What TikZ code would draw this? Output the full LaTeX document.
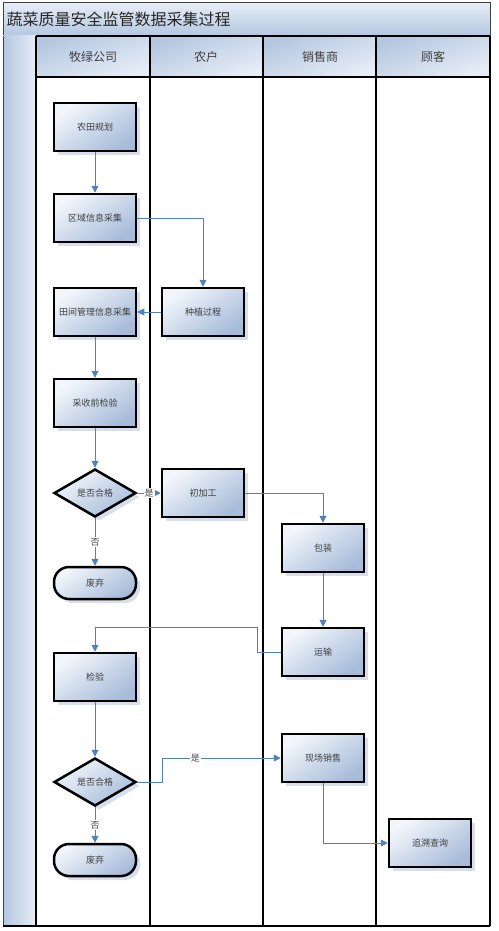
\documentclass[tikz,border=0pt]{standalone}
\usepackage{fontspec}
\newfontfamily\cjk{Noto Sans CJK SC}
\usetikzlibrary{shapes.geometric,arrows.meta,shadows}

\definecolor{flowblue}{HTML}{4F81BD}
\definecolor{boxlight}{HTML}{F2F6FB}
\definecolor{boxdark}{HTML}{A7BCDA}
\definecolor{lanelight}{HTML}{E6EDF6}
\definecolor{lanedark}{HTML}{B4C7E0}
\definecolor{shadowblue}{HTML}{D6DFEB}

\tikzset{
  boxshade/.style={top color=boxlight, bottom color=boxdark, shading angle=35,
    drop shadow={shadow xshift=4pt, shadow yshift=-4pt, fill=shadowblue, opacity=1}},
  stepbox/.style={rectangle, draw=black, line width=2.5pt, boxshade,
    minimum width=82pt, minimum height=48pt, inner sep=1pt,
    font=\cjk\fontsize{9}{11}\selectfont, text=black!75},
  checkbox/.style={diamond, draw=black, line width=2.5pt, boxshade,
    minimum width=82pt, minimum height=48pt, inner sep=0pt,
    font=\cjk\fontsize{9}{11}\selectfont, text=black!75},
  endbox/.style={rectangle, rounded corners=15pt, draw=black, line width=2.5pt, boxshade,
    minimum width=82pt, minimum height=32pt, inner sep=1pt,
    font=\cjk\fontsize{9}{11}\selectfont, text=black!75},
  flow/.style={draw=flowblue, line width=0.9pt, -{Triangle[width=7pt,length=7pt]}},
  yesno/.style={fill=white, inner sep=1pt, text=black!70, font=\cjk\fontsize{9}{11}\selectfont},
  lanehead/.style={font=\cjk\fontsize{12}{14}\selectfont, text=black!75}
}

\begin{document}
\begin{tikzpicture}[x=1pt, y=-1pt]
  \useasboundingbox (0,0) rectangle (498,931);

  % title bar and lane heads
  \shade[top color=lanelight, bottom color=lanedark] (3,3) rectangle (490,36);
  \draw[line width=1pt, black!75] (3,3) rectangle (490,36);
  \node[anchor=west, font=\cjk\fontsize{16}{18}\selectfont, text=black!85] (title) at (3,19) {蔬菜质量安全监管数据采集过程};
  \shade[left color=lanedark, right color=lanelight] (3,36) rectangle (36,926);
  \foreach \xa/\xb in {36/150, 150/263, 263/376, 376/490}
    \shade[top color=lanedark, bottom color=lanelight, shading angle=20] (\xa,36) rectangle (\xb,77);
  \node[lanehead] (company) at (93,57) {牧绿公司};
  \node[lanehead] (farmer) at (206,57) {农户};
  \node[lanehead] (seller) at (320,57) {销售商};
  \node[lanehead] (customer) at (433,57) {顾客};

  % lane lines
  \draw[line width=1pt, black!75] (3,36) -- (3,926);
  \foreach \x in {36, 150, 263, 376, 490}
    \draw[line width=2.5pt] (\x,36) -- (\x,926);
  \draw[line width=2.5pt] (36,36) -- (490,36);
  \draw[line width=2.5pt] (36,77) -- (490,77);
  \draw[line width=2.5pt] (3,926) -- (490,926);

  % steps
  \node[stepbox] (plan) at (95,127) {农田规划};
  \node[stepbox] (area) at (95,218) {区域信息采集};
  \node[stepbox] (field) at (95,312) {田间管理信息采集};
  \node[stepbox] (grow) at (203,312) {种植过程};
  \node[stepbox] (precheck) at (95,403) {采收前检验};
  \node[checkbox] (pass1) at (95,493) {是否合格};
  \node[stepbox] (proc) at (203,493) {初加工};
  \node[endbox] (waste1) at (95,583) {废弃};
  \node[stepbox] (pack) at (323,548) {包装};
  \node[stepbox] (ship) at (323,652) {运输};
  \node[stepbox] (check) at (95,677) {检验};
  \node[checkbox] (pass2) at (95,782) {是否合格};
  \node[stepbox] (sale) at (323,758) {现场销售};
  \node[endbox] (waste2) at (95,860) {废弃};
  \node[stepbox] (trace) at (430,843) {追溯查询};

  \coordinate (backup) at (257,627);
  \coordinate (yesbend) at (162,758);

  % connectors
  \draw[flow] (plan) -- (area);
  \draw[flow] (area.east) -| (grow.north);
  \draw[flow] (grow) -- (field);
  \draw[flow] (field) -- (precheck);
  \draw[flow] (precheck) -- (pass1);
  \draw[flow] (pass1) -- node[yesno] {是} (proc);
  \draw[flow] (pass1) -- node[yesno] {否} (waste1);
  \draw[flow] (proc.east) -| (pack.north);
  \draw[flow] (pack) -- (ship);
  \draw[flow] (ship.west) -| (backup) -| (check.north);
  \draw[flow] (check) -- (pass2);
  \draw[flow] (pass2.east) -| (yesbend) -- node[yesno, pos=0.28] {是} (sale.west);
  \draw[flow] (pass2) -- node[yesno] {否} (waste2);
  \draw[flow] (sale.south) |- (trace.west);
\end{tikzpicture}
\end{document}
